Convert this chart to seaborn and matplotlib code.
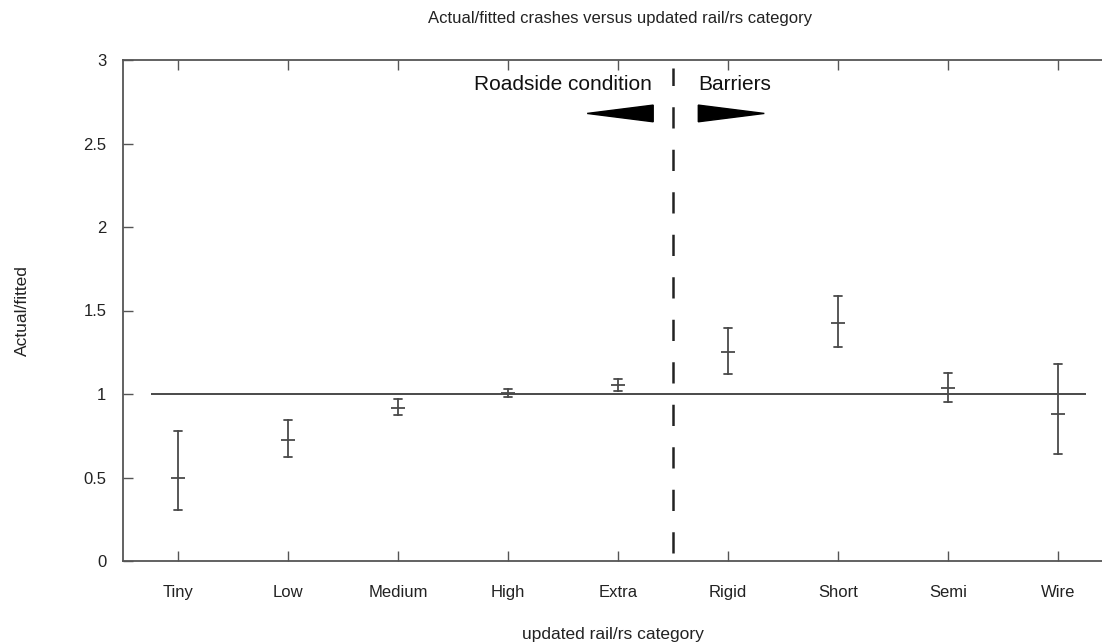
import matplotlib
matplotlib.use("Agg")
import matplotlib.pyplot as plt
import seaborn as sns
import pandas as pd
import numpy as np
from matplotlib.patches import Polygon

categories = ["Tiny", "Low", "Medium", "High", "Extra", "Rigid", "Short", "Semi", "Wire"]
center = [0.50, 0.725, 0.916, 1.003, 1.052, 1.25, 1.423, 1.034, 0.878]
lower = [0.305, 0.62, 0.872, 0.984, 1.016, 1.118, 1.28, 0.95, 0.641]
upper = [0.78, 0.844, 0.968, 1.03, 1.092, 1.397, 1.587, 1.124, 1.178]
y_ticks = [0, 0.5, 1, 1.5, 2, 2.5, 3]
y_tick_labels = ["0", "0.5", "1", "1.5", "2", "2.5", "3"]

sns.set_style("white")
plt.rcParams["font.family"] = ["Liberation Sans", "DejaVu Sans"]

rows = []
for c, lo, m, hi in zip(categories, lower, center, upper):
    for v in (lo, m, hi):
        rows.append({"category": c, "value": v})
df = pd.DataFrame(rows)

fig = plt.figure(figsize=(11.02, 6.42), dpi=100)
W, H = 1102, 642
left, right, top, bottom = 123, 1102, 60, 561
ax = fig.add_axes([left / W, 1 - bottom / H, (right - left) / W, (bottom - top) / H])

line_col = "#4a4a4a"
sns.pointplot(data=df, x="category", y="value", order=categories,
              estimator="median", errorbar=lambda v: (np.min(v), np.max(v)),
              linestyle="none", marker="_", markersize=10, markeredgewidth=1.3,
              color=line_col, capsize=0.08, err_kws={"linewidth": 1.3}, ax=ax)

ax.set_xlim(-0.5, (right - left) / 110 - 0.5)
ax.set_ylim(0, 3)

# reference line at 1
ax.hlines(1, -0.25, 8.25, color="#3a3a3a", linewidth=1.3, zorder=1)
# divider
ax.vlines(4.5, 0.05, 2.95, color="#222222", linewidth=1.8, linestyles=(0, (8.5, 8.5)))

# labels for the two groups
ax.text(4.31, 2.855, "Roadside condition", ha="right", va="center", fontsize=15,
        color="#111111")
ax.text(4.73, 2.855, "Barriers", ha="left", va="center", fontsize=15,
        color="#111111")
ay, ah = 2.68, 0.05
ax.add_patch(Polygon([[3.72, ay], [4.32, ay + ah], [4.32, ay - ah]], closed=True,
                     facecolor="black", edgecolor="black"))
ax.add_patch(Polygon([[5.33, ay], [4.73, ay + ah], [4.73, ay - ah]], closed=True,
                     facecolor="black", edgecolor="black"))

ax.set_yticks(y_ticks)
ax.set_yticklabels(y_tick_labels)
ax.tick_params(axis="both", direction="in", length=7, width=1, color="#555555",
               labelsize=12, labelcolor="#222222")
ax.tick_params(axis="x", top=True, bottom=True, pad=17)
ax.tick_params(axis="y", left=True, right=False, pad=12)
for s in ["left", "top", "bottom"]:
    ax.spines[s].set_color("#555555")
    ax.spines[s].set_linewidth(1.3)
ax.spines["right"].set_visible(False)

ax.set_xlabel("updated rail/rs category", fontsize=12.5, color="#222222", labelpad=20)
ax.set_ylabel("Actual/fitted", fontsize=12.5, color="#222222", labelpad=38)
fig.text(620 / W, 1 - 18 / H, "Actual/fitted crashes versus updated rail/rs category",
         ha="center", va="center", fontsize=12, color="#222222")

fig.savefig("out.png", dpi=100)
